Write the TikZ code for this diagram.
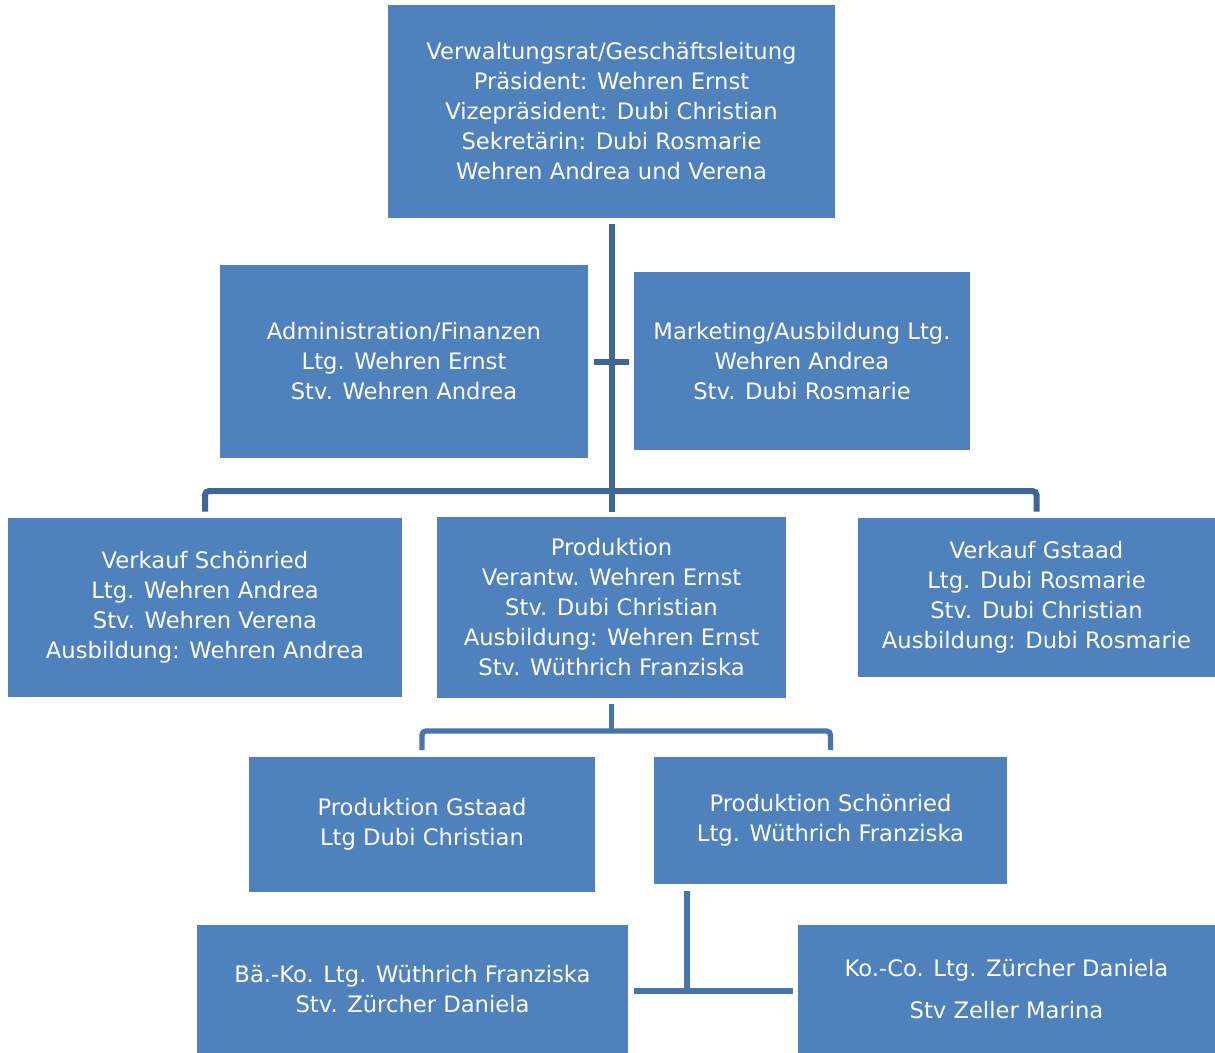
\documentclass[tikz,border=0pt]{standalone}
\usepackage{fontspec}
\setmainfont{DejaVu Sans}
\definecolor{boxblue}{HTML}{4F81BD}
\definecolor{trunkblue}{HTML}{3F6697}
\definecolor{linkblue}{HTML}{4874AE}
\begin{document}
\begin{tikzpicture}[x=0.75pt,y=-0.75pt,
  box/.style={draw=none, fill=boxblue, text=white, align=center, inner sep=0pt,
    font=\fontsize{17}{22.5}\selectfont},
  trunk/.style={draw=trunkblue, line width=4.5pt},
  link/.style={draw=linkblue, line width=4pt}]
\useasboundingbox (0,0) rectangle (1215,1053);
\fill[white] (0,0) rectangle (1215,1053);
% boxes: center, width, height in px
\node[box, minimum width=447*0.75pt, minimum height=213*0.75pt] (top) at (611.5,111.5)
  {Verwaltungsrat/Geschäftsleitung\\Präsident: Wehren Ernst\\Vizepräsident: Dubi Christian\\Sekretärin: Dubi Rosmarie\\Wehren Andrea und Verena};
\node[box, minimum width=368*0.75pt, minimum height=193*0.75pt] (admin) at (404,361.5)
  {Administration/Finanzen\\Ltg. Wehren Ernst\\Stv. Wehren Andrea};
\node[box, minimum width=336*0.75pt, minimum height=178*0.75pt] (mark) at (802,361)
  {Marketing/Ausbildung Ltg.\\Wehren Andrea\\Stv. Dubi Rosmarie};
\node[box, minimum width=394*0.75pt, minimum height=179*0.75pt] (vs) at (205,607.5)
  {Verkauf Schönried\\Ltg. Wehren Andrea\\Stv. Wehren Verena\\Ausbildung: Wehren Andrea};
\node[box, minimum width=349*0.75pt, minimum height=181*0.75pt] (prod) at (611.5,607.5)
  {Produktion\\Verantw. Wehren Ernst\\Stv. Dubi Christian\\Ausbildung: Wehren Ernst\\Stv. Wüthrich Franziska};
\node[box, minimum width=357*0.75pt, minimum height=159*0.75pt] (vg) at (1036.5,597.5)
  {Verkauf Gstaad\\Ltg. Dubi Rosmarie\\Stv. Dubi Christian\\Ausbildung: Dubi Rosmarie};
\node[box, minimum width=346*0.75pt, minimum height=135*0.75pt] (pg) at (422,824.5)
  {Produktion Gstaad\\Ltg Dubi Christian};
\node[box, minimum width=353*0.75pt, minimum height=127*0.75pt] (ps) at (830.5,820.5)
  {Produktion Schönried\\Ltg. Wüthrich Franziska};
\node[box, minimum width=431*0.75pt, minimum height=128*0.75pt] (bk) at (412.5,989)
  {Bä.-Ko. Ltg. Wüthrich Franziska\\Stv. Zürcher Daniela};
\node[box, minimum width=417*0.75pt, minimum height=128*0.75pt] (kc) at (1006.5,989)
  {Ko.-Co. Ltg. Zürcher Daniela\\[9pt]Stv Zeller Marina};
% junctions
\coordinate (bus) at (611.5,491);
\coordinate (bus2) at (611.5,731);
\coordinate (b3) at (687,991);
% connectors
\draw[trunk, shorten <=4.5pt, shorten >=3.75pt] (top.south) -- (top.south |- prod.north);
\draw[trunk, shorten <=4.5pt, shorten >=3.75pt] (admin.east) -- (admin.east -| mark.west);
\draw[trunk, rounded corners=3pt, shorten <=4.5pt, shorten >=4.5pt] (vs.north) |- (bus) -| (vg.north);
\draw[link, shorten <=4.5pt] (prod.south) -- (bus2);
\draw[link, rounded corners=3pt, shorten <=5pt, shorten >=5pt] (pg.north) |- (bus2) -| (ps.north);
\draw[link, shorten <=5pt] (b3 |- ps.south) -- (b3);
\draw[link, shorten <=4.5pt, shorten >=3.75pt] (bk.east |- b3) -- (kc.west |- b3);
\end{tikzpicture}
\end{document}
